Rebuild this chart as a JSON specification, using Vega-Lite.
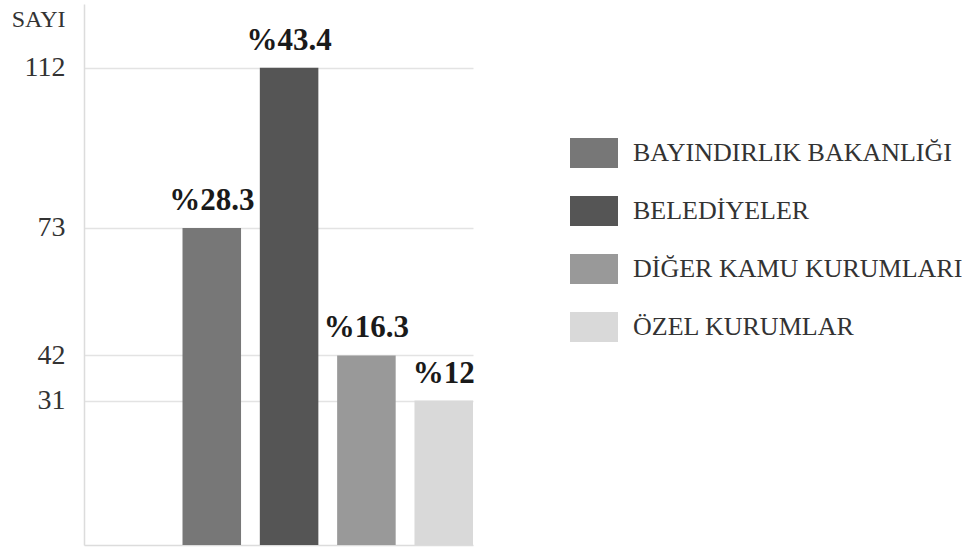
{
  "$schema": "https://vega.github.io/schema/vega-lite/v6.json",
  "width": 389,
  "height": 541,
  "autosize": {"type": "none"},
  "padding": {"left": 84, "top": 4, "right": 489, "bottom": 2},
  "background": "white",
  "config": {"view": {"stroke": null}, "font": "Liberation Serif"},
  "data": {
    "values": [
      {"kurum": "BAYINDIRLIK BAKANLIĞI", "sayi": 73, "oran": "%28.3"},
      {"kurum": "BELEDİYELER", "sayi": 112, "oran": "%43.4"},
      {"kurum": "DİĞER KAMU KURUMLARI", "sayi": 42, "oran": "%16.3"},
      {"kurum": "ÖZEL KURUMLAR", "sayi": 31, "oran": "%12"}
    ]
  },
  "encoding": {
    "x": {
      "field": "kurum",
      "type": "nominal",
      "sort": null,
      "scale": {"paddingInner": 0.243, "paddingOuter": 0.637, "align": 1},
      "axis": {"labels": false, "ticks": false, "title": null, "grid": false, "domainColor": "#dcdcdc", "domainWidth": 1.5}
    },
    "y": {
      "field": "sayi",
      "type": "quantitative",
      "scale": {"domain": [-4.14, 127.5], "zero": false, "nice": false},
      "axis": {
        "values": [31, 42, 73, 112],
        "title": "SAYI",
        "titleAngle": 0,
        "titleAlign": "right",
        "titleBaseline": "middle",
        "titleX": -19,
        "titleY": 15,
        "titleFont": "Liberation Serif",
        "titleFontSize": 24,
        "titleFontWeight": "normal",
        "titleColor": "#333333",
        "labelFont": "Liberation Serif",
        "labelFontSize": 28,
        "labelColor": "#333333",
        "labelPadding": 19,
        "ticks": false,
        "grid": true,
        "gridColor": "#e3e3e3",
        "gridWidth": 1.5,
        "domainColor": "#dcdcdc",
        "domainWidth": 1.5
      }
    }
  },
  "layer": [
    {
      "mark": {"type": "bar"},
      "encoding": {
        "y2": {"datum": -4.14},
        "color": {
          "field": "kurum",
          "type": "nominal",
          "scale": {
            "domain": ["BAYINDIRLIK BAKANLIĞI", "BELEDİYELER", "DİĞER KAMU KURUMLARI", "ÖZEL KURUMLAR"],
            "range": ["#777777", "#555555", "#999999", "#d9d9d9"]
          },
          "legend": {
            "title": null,
            "orient": "none",
            "legendX": 486,
            "legendY": 125,
            "symbolType": "M-1,-0.625H1V0.625H-1Z",
            "symbolSize": 2304,
            "symbolStrokeWidth": 0,
            "symbolOpacity": 1,
            "labelFont": "Liberation Serif",
            "labelFontSize": 26,
            "labelColor": "#333333",
            "labelOffset": 15,
            "labelLimit": 500,
            "rowPadding": 19,
            "padding": 0
          }
        }
      }
    },
    {
      "mark": {
        "type": "text",
        "font": "Liberation Serif",
        "fontWeight": "bold",
        "fontSize": 31,
        "baseline": "alphabetic",
        "align": "center",
        "dy": -18,
        "color": "#1a1a1a"
      },
      "encoding": {"text": {"field": "oran"}}
    }
  ]
}
